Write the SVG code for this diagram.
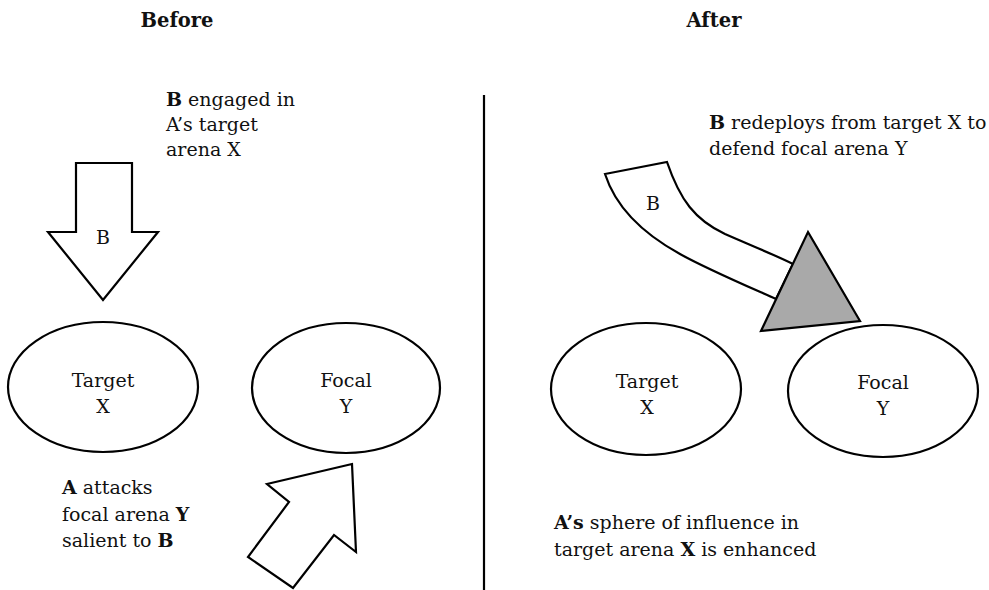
<svg xmlns="http://www.w3.org/2000/svg" width="989" height="590" viewBox="0 0 989 590">
<style>
text{font-family:"DejaVu Serif","Liberation Serif",serif;font-size:19px;fill:#111}
.h{font-weight:bold;font-size:19.5px}
.c{text-anchor:middle}
.b{font-weight:bold}
.shape{fill:#fff;stroke:#000;stroke-width:2.2;stroke-linejoin:miter}
</style>
<rect width="989" height="590" fill="#fff"/>
<text class="h c" x="177" y="27">Before</text>
<text class="h c" x="714" y="27">After</text>
<line x1="484" y1="95" x2="484" y2="590" stroke="#000" stroke-width="2.2"/>

<g id="note-b-engaged">
<text x="166" y="106"><tspan class="b">B</tspan> engaged in</text>
<text x="166" y="131">A’s target</text>
<text x="166" y="156">arena X</text>
</g>
<g id="arrow-b-down">
<polygon class="shape" points="76,163 132,163 132,232 158,232 103,300 48,232 76,232"/>
<text class="c" x="103" y="244">B</text>
</g>
<g id="before-target">
<ellipse class="shape" cx="103" cy="387" rx="95" ry="65"/>
<text class="c" x="103" y="387">Target</text>
<text class="c" x="103" y="413">X</text>
</g>
<g id="before-focal">
<ellipse class="shape" cx="346" cy="388" rx="94" ry="65"/>
<text class="c" x="346" y="387">Focal</text>
<text class="c" x="346" y="413">Y</text>
</g>
<g id="note-a-attacks">
<text x="62" y="494"><tspan class="b">A</tspan> attacks</text>
<text x="62" y="521">focal arena <tspan class="b">Y</tspan></text>
<text x="62" y="547">salient to <tspan class="b">B</tspan></text>
</g>
<g id="arrow-a">
<polygon class="shape" points="352,464 267,484 289,502 248,557 293,588 334,535 356,552"/>
</g>

<g id="note-b-redeploys">
<text x="709" y="129"><tspan class="b">B</tspan> redeploys from target X to</text>
<text x="709" y="155">defend focal arena Y</text>
</g>
<g id="arrow-b-curved">
<path class="shape" d="M605,174 L667,162 C680,200 695,220 725,234 C750,245 775,255 793,264 L776,299 C740,283 705,268 680,254 C640,232 615,205 605,174 Z"/>
<polygon points="808,232 860,321 761,331" fill="#a9a9a9" stroke="#000" stroke-width="2.2"/>
<text class="c" x="653" y="210">B</text>
</g>
<g id="after-target">
<ellipse class="shape" cx="646" cy="389" rx="95" ry="66"/>
<text class="c" x="647" y="388">Target</text>
<text class="c" x="647" y="414">X</text>
</g>
<g id="after-focal">
<ellipse class="shape" cx="883" cy="391" rx="95" ry="66"/>
<text class="c" x="883" y="389">Focal</text>
<text class="c" x="883" y="415">Y</text>
</g>
<g id="note-a-sphere">
<text x="554" y="529"><tspan class="b">A’s</tspan> sphere of influence in</text>
<text x="554" y="556">target arena <tspan class="b">X</tspan> is enhanced</text>
</g>
</svg>
